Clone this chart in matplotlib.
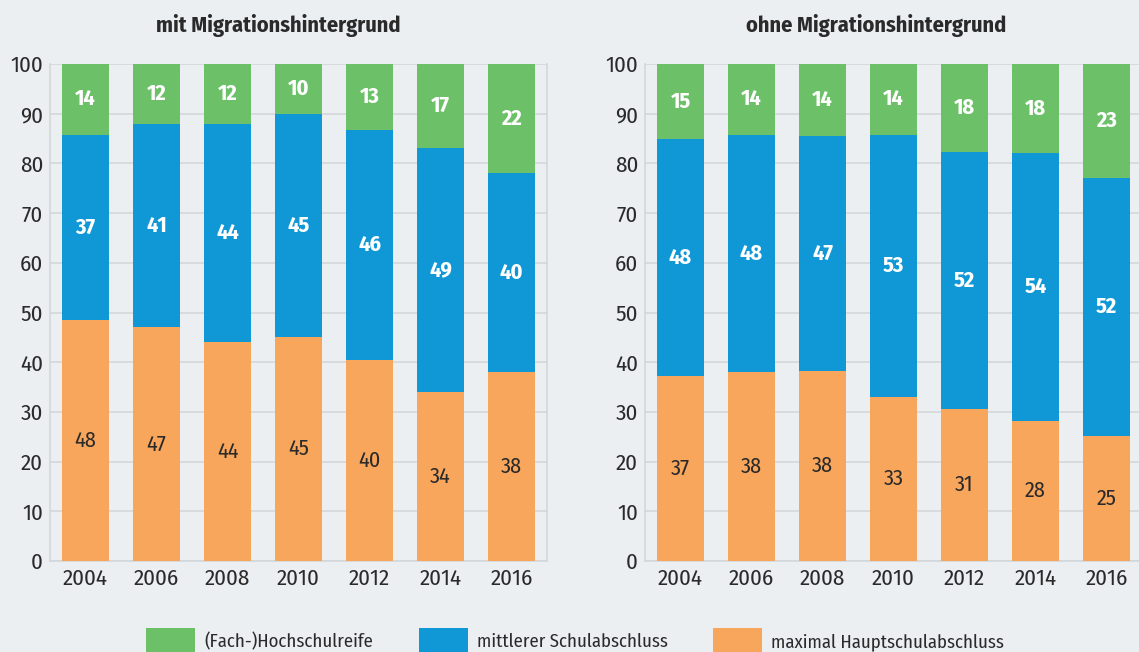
import numpy as np
import matplotlib
matplotlib.use('Agg')
import matplotlib.pyplot as plt
import matplotlib.font_manager as fm

# schmale Schrift (wie im Original) suchen, sonst DejaVu Sans
vorhanden = set(f.name for f in fm.fontManager.ttflist)
WUNSCH = ['Fira Sans Condensed', 'Encode Sans Condensed', 'Saira SemiCondensed']
FAMILIE = [n for n in WUNSCH if n in vorhanden][:1] + ['DejaVu Sans']
plt.rcParams['font.family'] = FAMILIE

# Daten ###########################################################
JAHRE = ['2004', '2006', '2008', '2010', '2012', '2014', '2016']

# mit Migrationshintergrund
mit_haupt = [48.4, 47.0, 44.0, 45.0, 40.4, 34.0, 38.0]
mit_mittel = [37.4, 41.0, 44.0, 45.0, 46.4, 49.2, 40.0]
mit_hoch = [14.2, 12.0, 12.0, 10.0, 13.2, 16.8, 22.0]

# ohne Migrationshintergrund
ohne_haupt = [37.2, 38.0, 38.2, 33.0, 30.6, 28.2, 25.2]
ohne_mittel = [47.7, 47.8, 47.4, 52.8, 51.6, 53.8, 51.8]
ohne_hoch = [15.1, 14.2, 14.4, 14.2, 17.8, 18.0, 23.0]

SERIEN = ['maximal Hauptschulabschluss', 'mittlerer Schulabschluss', '(Fach-)Hochschulreife']
FARBEN = ['#f8a65b', '#1097d6', '#6cc068']
TEXTFARBEN = ['#2a2a2a', 'white', 'white']
GEWICHT = ['normal', 'bold', 'bold']

BG = '#eceff2'
GRID = '#d3d7db'
DARK = '#2a2a2a'

#################################################################

fig = plt.figure(figsize=(11.39, 6.52), dpi=100, facecolor=BG)

ax1 = fig.add_axes([0.0439, 0.1396, 0.4364, 0.7622])
ax2 = fig.add_axes([0.5663, 0.1396, 0.4364, 0.7622])

panels = [
    (ax1, [mit_haupt, mit_mittel, mit_hoch], 'mit Migrationshintergrund', 0.244),
    (ax2, [ohne_haupt, ohne_mittel, ohne_hoch], 'ohne Migrationshintergrund', 0.769),
]

x = np.arange(len(JAHRE))
handles = []

for ax, reihen, titel, tx in panels:
    ax.set_facecolor(BG)
    bottom = np.zeros(len(JAHRE))
    hs = []
    for werte, name, farbe, tf, gw in zip(reihen, SERIEN, FARBEN, TEXTFARBEN, GEWICHT):
        werte = np.array(werte)
        b = ax.bar(x, werte, bottom=bottom, width=0.65, color=farbe, label=name, zorder=3)
        hs.append(b)
        for xi, v, bt in zip(x, werte, bottom):
            ax.text(xi, bt + v / 2, f'{v:.0f}', ha='center', va='center',
                    color=tf, fontsize=16, fontweight=gw, zorder=4)
        bottom += werte
    handles = hs

    ax.set_xlim(-0.5, 6.5)
    ax.set_ylim(0, 100)
    ax.set_yticks(np.arange(0, 101, 10))
    ax.set_xticks(x)
    ax.set_xticklabels(JAHRE)
    ax.tick_params(axis='both', length=0, labelsize=16.5, colors=DARK)
    ax.tick_params(axis='x', pad=5)
    ax.tick_params(axis='y', pad=5)
    ax.yaxis.grid(True, color=GRID, linewidth=1.2, zorder=0)
    ax.set_axisbelow(True)
    ax.spines['top'].set_visible(False)
    for s in ['left', 'bottom', 'right']:
        ax.spines[s].set_color(GRID)
        ax.spines[s].set_linewidth(1.2)

    fig.text(tx, 0.961, titel, ha='center', va='center', fontsize=16,
             fontweight='bold', color=DARK)

fig.legend(handles[::-1], SERIEN[::-1], loc='lower center', ncol=3,
           bbox_to_anchor=(0.505, -0.03), frameon=False, fontsize=13.5,
           handlelength=2.6, handleheight=1.8, columnspacing=2.45,
           handletextpad=0.48, labelcolor=DARK)

plt.savefig('out.png', dpi=100, facecolor=BG)
